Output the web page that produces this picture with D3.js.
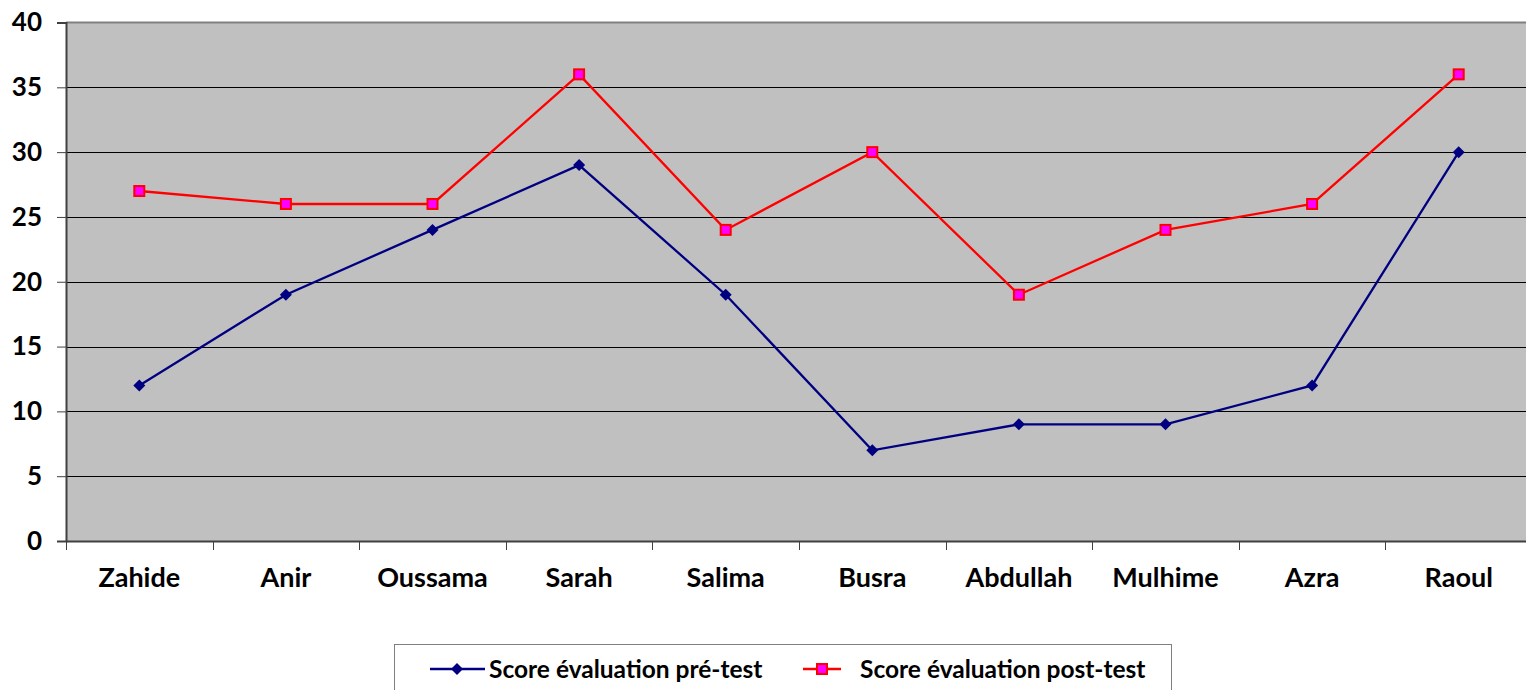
<!DOCTYPE html>
<html><head><meta charset="utf-8">
<script src="https://cdn.jsdelivr.net/npm/d3@7"></script>
<style>body{margin:0;background:#fff;overflow:hidden}svg{display:block}text{font-family:Lato,"Open Sans",sans-serif;font-weight:bold}</style>
</head><body><svg id="c" width="1526" height="690"></svg>
<script>
const categories = ["Zahide","Anir","Oussama","Sarah","Salima","Busra","Abdullah","Mulhime","Azra","Raoul"];
const preTest = [12,19,24,29,19,7,9,9,12,30];
const postTest = [27,26,26,36,24,30,19,24,26,36];
const yTicks = [0,5,10,15,20,25,30,35,40];
const seriesNames = ["Score évaluation pré-test","Score évaluation post-test"];

const svg = d3.select("#c");
const L = 66, R = 1532, T = 22.5, B = 541;
const x = d3.scaleBand().domain(categories).range([L, R]);
const y = d3.scaleLinear().domain([0, 40]).range([B, T]);

svg.append("rect").attr("x", L).attr("y", T).attr("width", R - L).attr("height", B - T).attr("fill", "#c0c0c0");
svg.append("line").attr("x1", L).attr("x2", R).attr("y1", T).attr("y2", T).attr("stroke", "#808080").attr("stroke-width", 2);

// gridlines
svg.append("g").selectAll("line").data(yTicks.filter(d => d > 0 && d < 40)).join("line")
  .attr("x1", L).attr("x2", R).attr("y1", d => Math.round(y(d)) + 0.5).attr("y2", d => Math.round(y(d)) + 0.5)
  .attr("stroke", "#000").attr("stroke-width", 1);

// y axis
const ya = svg.append("g").attr("transform", `translate(${L},0)`)
  .call(d3.axisLeft(y).tickValues(yTicks).tickSize(9).tickPadding(15));
ya.select(".domain").attr("stroke", "#404040").attr("stroke-width", 2);
ya.selectAll(".tick line").attr("stroke", "#404040");
ya.selectAll("text").attr("font-size", 26).attr("fill", "#000").style("font-family", "Lato").style("font-weight", "bold");

// x axis
const xa = svg.append("g").attr("transform", `translate(0,${B})`)
  .call(d3.axisBottom(x).tickSize(0).tickPadding(27));
xa.select(".domain").attr("stroke", "#404040").attr("stroke-width", 2);
xa.selectAll("text").attr("font-size", 27).attr("fill", "#000").style("font-family", "Lato").style("font-weight", "bold");
svg.append("g").selectAll("line").data(categories).join("line")
  .attr("x1", d => Math.round(x(d)) + 0.5).attr("x2", d => Math.round(x(d)) + 0.5)
  .attr("y1", B).attr("y2", B + 9).attr("stroke", "#404040");

const cx = d => x(d) + x.bandwidth() / 2;
const line = d3.line().x(d => cx(d.c)).y(d => y(d.v));
const preData = categories.map((c, i) => ({c, v: preTest[i]}));
const postData = categories.map((c, i) => ({c, v: postTest[i]}));

svg.append("path").datum(preData).attr("d", line).attr("fill", "none").attr("stroke", "#000080").attr("stroke-width", 2.3);
svg.append("path").datum(postData).attr("d", line).attr("fill", "none").attr("stroke", "#ff0000").attr("stroke-width", 2.3);

const diamond = (px, py, s) => `M${px},${py - s}L${px + s},${py}L${px},${py + s}L${px - s},${py}Z`;
svg.append("g").selectAll("path").data(preData).join("path")
  .attr("d", d => diamond(cx(d.c), y(d.v), 6)).attr("fill", "#000080");
svg.append("g").selectAll("rect").data(postData).join("rect")
  .attr("x", d => cx(d.c) - 5).attr("y", d => y(d.v) - 5).attr("width", 10).attr("height", 10)
  .attr("fill", "#ff00ff").attr("stroke", "#ff0000").attr("stroke-width", 2);

// legend
const lg = svg.append("g");
lg.append("rect").attr("x", 394.5).attr("y", 644.5).attr("width", 777).attr("height", 60).attr("fill", "#fff").attr("stroke", "#808080");
const ly = 669;
lg.append("line").attr("x1", 430).attr("x2", 485).attr("y1", ly).attr("y2", ly).attr("stroke", "#000080").attr("stroke-width", 2.3);
lg.append("path").attr("d", diamond(457, ly, 6)).attr("fill", "#000080");
lg.append("text").attr("x", 489).attr("y", ly).attr("dy", "0.35em").attr("font-size", 24.5).text(seriesNames[0]);
lg.append("line").attr("x1", 803).attr("x2", 841).attr("y1", ly).attr("y2", ly).attr("stroke", "#ff0000").attr("stroke-width", 2.3);
lg.append("rect").attr("x", 817).attr("y", ly - 5).attr("width", 10).attr("height", 10).attr("fill", "#ff00ff").attr("stroke", "#ff0000").attr("stroke-width", 2);
lg.append("text").attr("x", 860).attr("y", ly).attr("dy", "0.35em").attr("font-size", 24.5).text(seriesNames[1]);
</script></body></html>
